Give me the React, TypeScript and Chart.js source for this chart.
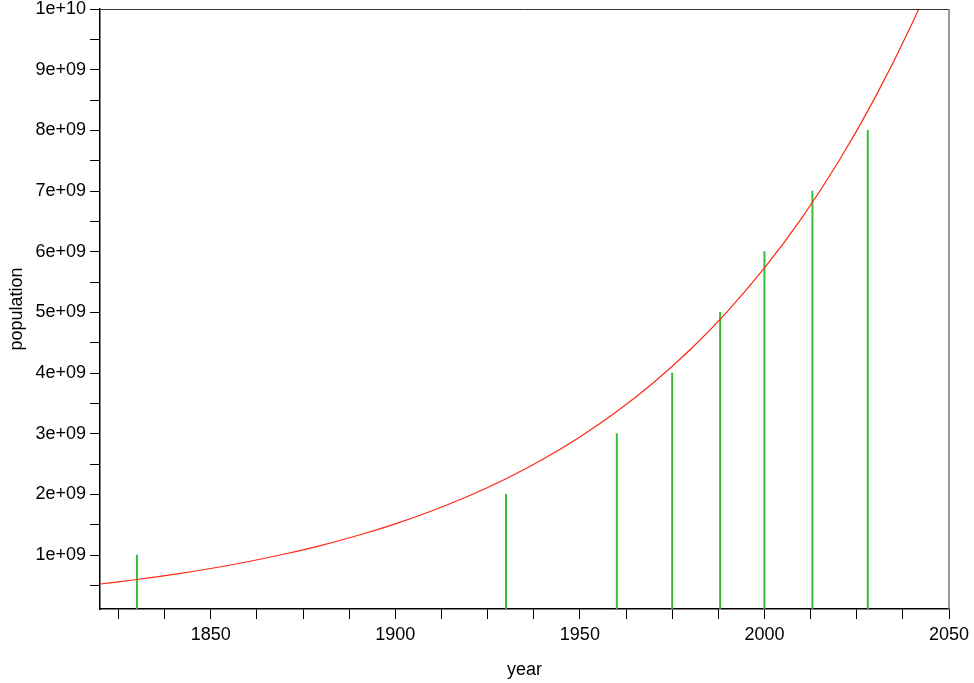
import React, { useEffect, useRef } from "react";
import { Chart, registerables } from "chart.js";

Chart.register(...registerables);

// Fitted population curve (billions)
const curveYears = [1820, 1830, 1840, 1850, 1860, 1870, 1880, 1890, 1900, 1910, 1920, 1930, 1940, 1950, 1960, 1970, 1980, 1990, 2000, 2010, 2020, 2030, 2040, 2050];
const curveValues = [0.522, 0.596, 0.681, 0.778, 0.889, 1.016, 1.16, 1.325, 1.514, 1.73, 1.976, 2.257, 2.578, 2.946, 3.365, 3.844, 4.391, 5.016, 5.731, 6.546, 7.478, 8.543, 9.759, 11.15];

// Milestone impulses (year, billions)
const milestoneYears = [1830, 1930, 1960, 1975, 1988, 2000, 2013, 2028];
const milestoneValues = [1, 2, 3, 4, 5, 6, 7, 8];

const xMin = 1820;
const xMax = 2050;
const yMin = 0.11; // billions
const yMax = 10;
const xStep = 12.5;
const yStep = 0.5;

const FONT = "'Liberation Sans', Arial, Helvetica, sans-serif";

function fmtPop(billions: number): string {
  return (billions * 1e9).toExponential().replace(/e\+(\d)$/, "e+0$1");
}

export default function App() {
  const ref = useRef<HTMLCanvasElement | null>(null);

  useEffect(() => {
    document.body.style.margin = "0";
    const canvas = ref.current;
    if (!canvas) return;

    const frame = {
      id: "frame",
      afterDraw(chart: any) {
        const { ctx, chartArea } = chart;
        ctx.save();
        ctx.lineWidth = 1;
        ctx.strokeStyle = "#333";
        ctx.beginPath();
        ctx.moveTo(chartArea.left, chartArea.top + 0.5);
        ctx.lineTo(chartArea.right, chartArea.top + 0.5);
        ctx.stroke();
        ctx.lineWidth = 1.5;
        ctx.strokeStyle = "#777";
        ctx.beginPath();
        ctx.moveTo(chartArea.right, chartArea.top);
        ctx.lineTo(chartArea.right, chartArea.bottom);
        ctx.stroke();
        ctx.restore();
      },
    };

    const chart = new Chart(canvas, {
      type: "line",
      data: {
        datasets: [
          {
            type: "line",
            data: curveYears.map((x, i) => ({ x, y: curveValues[i] })),
            borderColor: "rgb(255,40,20)",
            borderWidth: 1.2,
            pointRadius: 0,
            cubicInterpolationMode: "monotone",
            fill: false,
          } as any,
          {
            type: "bar",
            data: milestoneYears.map((x, i) => ({ x, y: milestoneValues[i] })),
            backgroundColor: "#33bb33",
            borderWidth: 0,
            barThickness: 1.3,
          } as any,
        ],
      },
      options: {
        responsive: false,
        animation: false,
        layout: { padding: { top: 9, right: 25, left: 0, bottom: 0 } },
        plugins: { legend: { display: false }, tooltip: { enabled: false } },
        scales: {
          x: {
            type: "linear",
            min: xMin,
            max: xMax,
            offset: false,
            afterFit: (s: any) => {
              s.height = 74;
              s.paddingLeft = 0;
              s.paddingRight = 0;
            },
            border: { color: "#000", width: 1.5 },
            grid: { offset: false, drawOnChartArea: false, drawTicks: true, tickLength: 10, color: "#000", lineWidth: 1 },
            ticks: {
              stepSize: xStep,
              includeBounds: false,
              autoSkip: false,
              maxRotation: 0,
              padding: 5,
              color: "#000",
              font: { family: FONT, size: 18 },
              callback: (v: any) => (Number(v) % 50 === 0 ? String(v) : ""),
            },
            title: {
              display: true,
              text: "year",
              color: "#000",
              font: { family: FONT, size: 18 },
              padding: { top: 0, bottom: 2 },
            },
          },
          y: {
            type: "linear",
            min: yMin,
            max: yMax,
            afterFit: (s: any) => {
              s.width = 100;
              s.paddingTop = 0;
              s.paddingBottom = 0;
            },
            border: { color: "#000", width: 1.5 },
            grid: { drawOnChartArea: false, drawTicks: true, tickLength: 10, color: "#000", lineWidth: 1 },
            ticks: {
              stepSize: yStep,
              includeBounds: false,
              autoSkip: false,
              padding: 4,
              color: "#000",
              font: { family: FONT, size: 18 },
              callback: (v: any) => {
                const n = Number(v);
                if (Math.abs(n - Math.round(n)) > 1e-9) return "";
                return fmtPop(Math.round(n));
              },
            },
            title: {
              display: true,
              text: "population",
              color: "#000",
              font: { family: FONT, size: 18 },
              padding: { top: 6, bottom: 0 },
            },
          },
        },
      },
      plugins: [frame],
    });

    return () => chart.destroy();
  }, []);

  return <canvas ref={ref} width={974} height={683} style={{ display: "block" }} />;
}
